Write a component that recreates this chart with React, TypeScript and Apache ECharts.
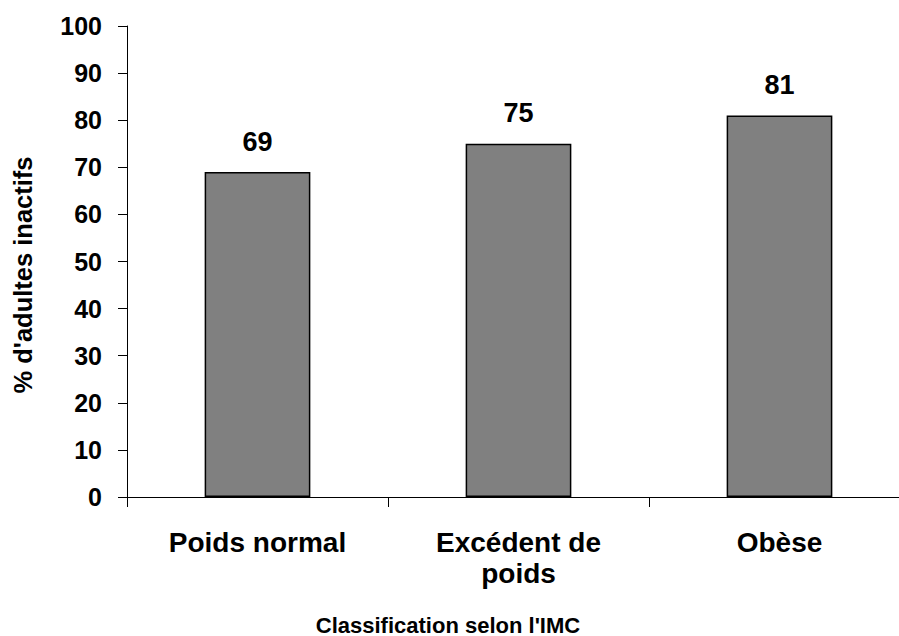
import React, { useEffect, useRef } from "react";
import * as echarts from "echarts";

const categories: string[] = ["Poids normal", "Excédent de\npoids", "Obèse"];
const values: number[] = [69, 75, 81];
const yTicks = { min: 0, max: 100, interval: 10 };
const xTitle = "Classification selon l'IMC";
const yTitle = "% d'adultes inactifs";

const FONT = "'Liberation Sans', Arial, sans-serif";

export default function App() {
  const ref = useRef<HTMLDivElement>(null);
  useEffect(() => {
    if (!ref.current) return;
    const chart = echarts.init(ref.current, undefined, { renderer: "svg" });
    chart.setOption({
      animation: false,
      backgroundColor: "#ffffff",
      grid: { left: 127, right: 1, top: 26, bottom: 139, containLabel: false },
      xAxis: {
        type: "category",
        data: categories,
        axisLine: { lineStyle: { color: "#000", width: 1 } },
        axisTick: { show: true, length: 10, inside: false, lineStyle: { color: "#000" } },
        axisLabel: {
          color: "#000",
          fontFamily: FONT,
          fontWeight: "bold",
          fontSize: 28,
          lineHeight: 31,
          margin: 30,
          interval: 0,
        },
        splitLine: { show: false },
      },
      yAxis: {
        type: "value",
        min: yTicks.min,
        max: yTicks.max,
        interval: yTicks.interval,
        axisLine: { show: true, lineStyle: { color: "#000", width: 1 } },
        axisTick: { show: true, length: 9, inside: false, lineStyle: { color: "#000" } },
        axisLabel: {
          color: "#000",
          fontFamily: FONT,
          fontWeight: "bold",
          fontSize: 25,
          margin: 25,
        },
        splitLine: { show: false },
      },
      graphic: [
        {
          type: "text",
          x: 448,
          y: 625,
          style: {
            text: xTitle,
            fill: "#000",
            font: `bold 22px ${FONT}`,
            align: "center",
            verticalAlign: "middle",
          },
        },
        {
          type: "text",
          x: 23,
          y: 275,
          rotation: Math.PI / 2,
          style: {
            text: yTitle,
            fill: "#000",
            font: `bold 25.5px ${FONT}`,
            align: "center",
            verticalAlign: "middle",
          },
        },
      ],
      series: [
        {
          type: "bar",
          data: values,
          barWidth: "40.5%",
          itemStyle: { color: "#808080", borderColor: "#000", borderWidth: 1.5 },
          label: {
            show: true,
            position: "top",
            distance: 17,
            color: "#000",
            fontFamily: FONT,
            fontWeight: "bold",
            fontSize: 27,
          },
        },
      ],
    });
    return () => chart.dispose();
  }, []);
  return (
    <div
      ref={ref}
      style={{ position: "fixed", left: 0, top: 0, width: 911, height: 636, background: "#fff" }}
    />
  );
}
